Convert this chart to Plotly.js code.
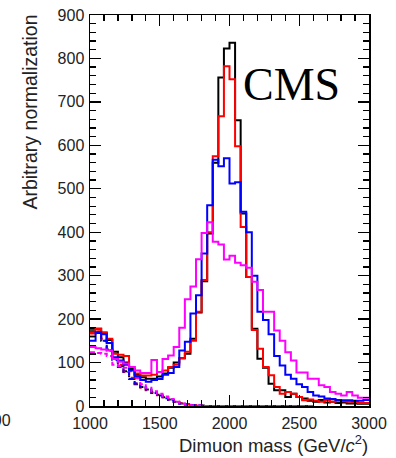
<!DOCTYPE html>
<html>
<head>
<meta charset="utf-8">
<script src="https://cdn.plot.ly/plotly-3.0.1.min.js"></script>
<style>html,body{margin:0;padding:0;background:#fff;} #chart{width:396px;height:458px;}</style>
</head>
<body>
<div id="chart"></div>
<script>
// Histogram binning: 50 bins of 40 GeV from 1000 to 3000 GeV/c^2
var binLow = 1000;
var binWidth = 40;

// Solid histograms (signal + background)
var blackSolid = [178,178,168,152,125,112,100,85,72,66,63,63,68,75,88,100,110,120,155,215,287,397,560,756,823,836,658,443,297,178,109,88,51,36,36,21,28,21,17,12,10,14,8,10,7,8,6,6,5,5];
var redSolid = [167,178,170,155,120,118,115,90,75,70,70,72,78,82,90,95,110,125,150,217,290,400,575,667,782,752,598,412,297,175,132,90,71,44,28,32,28,21,13,15,12,10,14,10,12,11,10,9,7,7];
var blueSolid = [150,170,165,145,112,105,95,82,68,60,56,60,62,72,76,90,128,148,213,255,351,462,567,552,570,512,515,447,400,300,217,198,165,115,93,72,63,50,44,32,24,22,17,16,14,13,13,12,12,14];
var magentaSolid = [136,133,130,128,108,102,98,90,82,76,76,106,78,108,116,136,180,246,275,338,398,423,378,372,337,346,330,324,318,286,267,217,217,174,150,124,105,77,77,63,63,48,44,32,28,24,32,24,19,19];

// Dashed histograms (background only), 40 bins from 1000 to 2600
var blackDashed = [172,168,150,130,108,92,80,62,50,44,38,30,26,20,15,10,6,4,2,1,1,0,0,0,0,0,0,0,0,0,0,0,0,0,0,0,0,0,0,0];
var redDashed = [170,172,155,128,110,95,78,65,52,42,36,32,25,20,14,10,7,4,2,1,0,0,0,0,0,0,0,0,0,0,0,0,0,0,0,0,0,0,0,0];
var blueDashed = [160,168,150,128,106,90,78,62,52,44,38,30,24,18,14,9,5,3,2,1,0,0,0,0,0,0,0,0,0,0,0,0,0,0,0,0,0,0,0,0];
var magentaDashed = [124,122,120,115,95,92,88,80,64,50,42,34,28,22,16,10,6,3,2,1,0,0,0,0,0,0,0,0,0,0,0,0,0,0,0,0,0,0,0,0];

var xTickVals = [1000,1500,2000,2500,3000];
var yTickVals = [0,100,200,300,400,500,600,700,800,900];

function stepTrace(vals, color, dash) {
  var xs = [], ys = [];
  for (var i = 0; i < vals.length; i++) { xs.push(binLow + i*binWidth); ys.push(vals[i]); }
  xs.push(binLow + vals.length*binWidth); ys.push(vals[vals.length-1]);
  return {x: xs, y: ys, type: 'scatter', mode: 'lines',
          line: {shape: 'hv', color: color, width: 2, dash: dash || 'solid'},
          hoverinfo: 'skip', showlegend: false};
}

var data = [
  stepTrace(blackDashed, '#000000', '5px,3px'),
  stepTrace(redDashed, '#ff0000', '5px,3px'),
  stepTrace(blueDashed, '#0000ff', '5px,3px'),
  stepTrace(magentaDashed, '#ff00ff', '5px,3px'),
  stepTrace(blackSolid, '#000000'),
  stepTrace(redSolid, '#ff0000'),
  stepTrace(blueSolid, '#0000ff'),
  stepTrace(magentaSolid, '#ff00ff')
];

var tickFont = {family: 'Liberation Sans, Arial, sans-serif', size: 16, color: '#222'};

var layout = {
  width: 396, height: 458,
  margin: {l: 90, r: 27, t: 15, b: 52},
  paper_bgcolor: '#fff', plot_bgcolor: '#fff',
  xaxis: {
    range: [1000, 3000], tickvals: xTickVals, ticktext: xTickVals.map(String),
    ticks: 'inside', ticklen: 11, tickwidth: 1.3, tickcolor: '#000',
    minor: {dtick: 100, tick0: 1000, ticks: 'inside', ticklen: 6, tickwidth: 1.3, tickcolor: '#000'},
    showline: true, linecolor: '#000', linewidth: 1.5, mirror: 'allticks',
    showgrid: false, zeroline: false, tickfont: tickFont, ticklabelstandoff: 2
  },
  yaxis: {
    range: [0, 900], tickvals: yTickVals, ticktext: yTickVals.map(String),
    ticks: 'inside', ticklen: 11, tickwidth: 1.3, tickcolor: '#000',
    minor: {dtick: 20, tick0: 0, ticks: 'inside', ticklen: 6, tickwidth: 1.3, tickcolor: '#000'},
    showline: true, linecolor: '#000', linewidth: 1.5, mirror: 'allticks',
    showgrid: false, zeroline: false, tickfont: tickFont, ticklabelstandoff: 1
  },
  annotations: [
    {text: 'Arbitrary normalization', xref: 'paper', yref: 'paper', x: -0.215, y: 1.005,
     xanchor: 'center', yanchor: 'top', textangle: -90, showarrow: false,
     font: {family: 'Liberation Sans, Arial, sans-serif', size: 19.5, color: '#222'}},
    {text: 'Dimuon mass (GeV/<i>c</i><sup>2</sup>)', xref: 'paper', yref: 'paper', x: 1.004, y: -0.098,
     xanchor: 'right', yanchor: 'middle', showarrow: false,
     font: {family: 'Liberation Sans, Arial, sans-serif', size: 18.5, color: '#222'}},
    {text: 'CMS', xref: 'paper', yref: 'paper', x: 0.724, y: 0.823,
     xanchor: 'center', yanchor: 'middle', showarrow: false,
     font: {family: 'Liberation Serif, Times New Roman, serif', size: 46, color: '#000'}},
    {text: '3000', xref: 'paper', yref: 'paper', x: -0.276, y: -0.037,
     xanchor: 'right', yanchor: 'middle', showarrow: false, font: tickFont}
  ]
};

Plotly.newPlot('chart', data, layout, {staticPlot: true, displayModeBar: false});
</script>
</body>
</html>
